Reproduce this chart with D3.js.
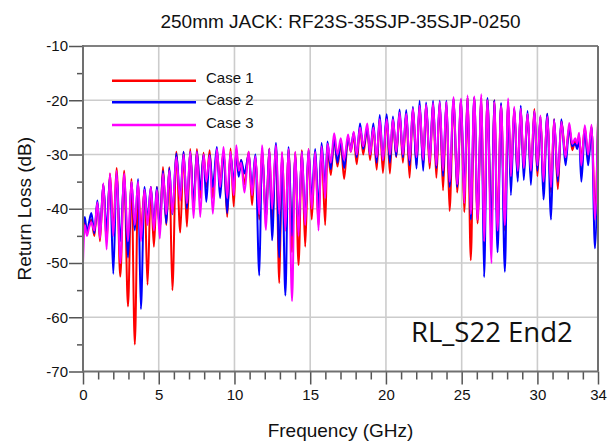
<!DOCTYPE html>
<html>
<head>
<meta charset="utf-8">
<script src="https://cdn.jsdelivr.net/npm/d3@7"></script>
<style>
  html, body { margin: 0; padding: 0; background: #fff; }
  svg { display: block; font-family: "Liberation Sans", Arial, sans-serif; }
  .axis text { font-size: 15px; fill: #111; }
  .axis path { display: none; }
  .axis line { stroke: #555; stroke-width: 1.5; }
</style>
</head>
<body>
<div id="chart"></div>
<script>
// Return loss vs frequency, three cases (peak / dip pairs).

const freqGHz = [
  0, 0.12, 0.26, 0.4, 0.55, 0.75, 0.95, 1.12, 1.34, 1.56, 1.78, 2.0, 2.22, 2.46, 2.72, 2.97,
  3.2, 3.42, 3.64, 3.82, 4.06, 4.26, 4.48, 4.68, 4.88, 5.07, 5.28, 5.5, 5.7, 5.9, 6.16, 6.42,
  6.64, 6.86, 7.08, 7.3, 7.52, 7.74, 7.96, 8.14, 8.36, 8.57, 8.84, 9.05, 9.28, 9.52, 9.74, 9.95,
  10.12, 10.28, 10.44, 10.66, 10.94, 11.16, 11.38, 11.64, 11.82, 12.08, 12.3, 12.48, 12.74, 12.96, 13.14, 13.36,
  13.57, 13.8, 14.01, 14.23, 14.45, 14.67, 14.89, 15.1, 15.33, 15.55, 15.75, 15.99, 16.14, 16.36, 16.58, 16.8,
  17.02, 17.24, 17.5, 17.68, 17.87, 18.07, 18.29, 18.5, 18.77, 18.95, 19.17, 19.39, 19.59, 19.8, 20.05, 20.26,
  20.46, 20.68, 20.9, 21.12, 21.34, 21.56, 21.78, 22.02, 22.22, 22.46, 22.65, 22.89, 23.11, 23.33, 23.55, 23.77,
  23.99, 24.2, 24.47, 24.7, 24.96, 25.17, 25.39, 25.6, 25.83, 26.05, 26.3, 26.48, 26.7, 26.97, 27.15, 27.37,
  27.6, 27.85, 28.07, 28.25, 28.47, 28.7, 28.9, 29.1, 29.35, 29.57, 29.8, 30.0, 30.2, 30.4, 30.65, 30.9,
  31.1, 31.35, 31.58, 31.86, 32.1, 32.3, 32.5, 32.62, 32.75, 32.9, 33.13, 33.35, 33.58, 33.8, 34.0
];

const case1 = [
  -44, -42.5, -44.5, -43, -42, -45, -39, -46, -35.5, -46, -33.5, -44, -32.5, -52.5, -33, -58,
  -34.5, -65, -35.5, -44, -36.5, -54, -36, -47, -36, -44, -32.3, -43, -32.3, -55, -29.5, -44.4,
  -29.5, -43.3, -29, -40, -29, -38, -29.7, -36, -29.2, -38, -29.5, -35, -29.5, -41.5, -28.9, -39.6,
  -29, -33.5, -31, -35.5, -29.5, -39.3, -30.5, -42, -29, -42, -28.9, -43, -28.5, -53.7, -29.7, -44,
  -29, -48, -29.6, -50.4, -29.2, -47, -29, -42, -29.5, -43, -28.5, -43, -28.5, -33.8, -27, -32.2,
  -28, -34.5, -26.8, -29.5, -26.5, -31.8, -25, -30, -25, -31, -25, -32.8, -23.5, -33.4, -23, -33.5,
  -23.5, -30.5, -22.5, -31.5, -22.5, -34.3, -21.5, -32, -21, -32, -20.8, -32.6, -20.5, -34.3, -20.5, -36.6,
  -20.3, -40.4, -19.8, -37, -20, -40.6, -19.5, -49.5, -19.5, -42.7, -19.5, -45, -19.8, -45, -20, -43,
  -20.8, -44, -20.5, -35, -21.5, -34.3, -21.5, -33, -22.5, -34, -21.6, -34, -23, -36, -22.5, -37,
  -23.5, -36.4, -23.8, -30, -25, -29.2, -27.5, -28.5, -26.5, -31, -25, -31, -24.8, -40, -24
];

const case2 = [
  -43, -41.5, -44.5, -42.5, -40.8, -44.5, -38.5, -44.5, -35.5, -44, -34, -52, -33.5, -46, -34, -49,
  -35, -44, -34.5, -58.5, -36, -42, -36, -43, -36, -44, -33, -42.7, -32.5, -41, -29.8, -38,
  -29.5, -40, -29.5, -39, -29.5, -36.5, -30, -38.7, -30, -36, -28.6, -38, -29.5, -40.8, -30, -35,
  -29.8, -34.1, -31, -33.5, -30, -36, -30, -52.3, -29, -42, -29, -45.8, -27.9, -49, -30, -56,
  -28.6, -45, -30, -44, -29.5, -42, -29.2, -38, -29, -40, -27.9, -36, -27.6, -32.7, -27, -31.5,
  -27.5, -32.5, -27, -29, -26, -30.5, -24.3, -29, -25, -30, -24.3, -31.5, -22.7, -31, -22.6, -31.5,
  -23, -30.3, -21.7, -30.5, -21.8, -32, -21.2, -32.6, -20.1, -33, -20.4, -31, -20.1, -32.5, -20.1, -34,
  -20.1, -36, -19.7, -36, -19.9, -37, -19.5, -42, -19.5, -41, -19.8, -52.6, -19.6, -44, -20, -48,
  -20.5, -51.6, -20.3, -37.5, -21.5, -35, -21, -34.7, -22, -35.6, -22, -33, -23, -38.3, -22.5, -42,
  -23.5, -35, -23.5, -32, -25, -28.5, -28, -29, -27, -35, -25.5, -32, -25, -47.3, -24.5
];

const case3 = [
  -50, -43, -45, -43.5, -42.5, -44, -38.8, -45.5, -35.3, -47.5, -33.5, -45, -33, -50, -33.5, -46,
  -35, -43, -35, -46, -36.5, -43, -36, -44, -36.5, -45.5, -33.5, -41, -33, -40.8, -30.5, -38.5,
  -30, -39, -29.5, -41.7, -29.5, -41.5, -30, -35, -30.2, -40.9, -29, -36, -28.6, -38, -29.5, -37.5,
  -28.3, -33, -31.5, -37, -29.5, -37.5, -30.3, -41, -28.3, -43.9, -29, -40, -28.3, -41, -29.5, -44,
  -29, -57, -29.5, -45, -29.5, -43, -29, -40, -29.5, -44, -28.5, -38, -28, -31.5, -26.1, -30,
  -27, -31, -26.3, -29.5, -25.8, -30, -25, -28.5, -24.3, -30, -25, -30.5, -23.5, -31, -23.5, -30,
  -23.5, -29.5, -22.3, -30, -22.5, -31, -21.5, -30.5, -21, -31, -20.8, -31.5, -20.5, -32, -20.3, -33,
  -20.3, -35, -19.4, -35.5, -19.7, -39, -19.1, -41, -19.3, -42, -18.9, -46, -20, -50, -20.3, -44,
  -21, -43, -19.7, -34, -21.2, -33, -21.5, -32.5, -22.5, -33, -22, -32, -22.8, -35, -23, -36,
  -23.7, -34, -24, -30.5, -24.2, -28, -27, -28, -26, -32, -24.6, -30, -24.5, -42, -23.5
];

const seriesNames = ["Case 1", "Case 2", "Case 3"];
const seriesColors = ["#ff0000", "#0000ff", "#ff00ff"];
const seriesValues = [case1, case2, case3];

const yMajorTicks = [-70, -60, -50, -40, -30, -20, -10];
const yMinorTicks = [-65, -55, -45, -35, -25, -15];
const xMajorTicks = [0, 5, 10, 15, 20, 25, 30, 34];
const xMinorTicks = d3.range(1, 34).filter(v => v % 5 !== 0);

const W = 608, H = 442;
const margin = { top: 46, right: 10, bottom: 70.5, left: 83 };

const svg = d3.select("#chart").append("svg")
  .attr("width", W).attr("height", H)
  .attr("viewBox", `0 0 ${W} ${H}`);

const x = d3.scaleLinear().domain([0, 34]).range([margin.left, W - margin.right]);
const y = d3.scaleLinear().domain([-70, -10]).range([H - margin.bottom, margin.top]);
const plain = d => String(d);  // keep ASCII hyphen as in the original

// gridlines
const grid = svg.append("g").attr("stroke", "#cccccc").attr("stroke-width", 1.6);
grid.selectAll("line.gy").data(yMajorTicks.slice(1, -1)).join("line")
  .attr("x1", margin.left).attr("x2", W - margin.right)
  .attr("y1", d => y(d)).attr("y2", d => y(d));
grid.selectAll("line.gx").data(xMajorTicks.slice(1, -1)).join("line")
  .attr("y1", margin.top).attr("y2", H - margin.bottom)
  .attr("x1", d => x(d)).attr("x2", d => x(d));

// data lines
svg.append("clipPath").attr("id", "plot-clip").append("rect")
  .attr("x", margin.left).attr("y", margin.top)
  .attr("width", W - margin.left - margin.right).attr("height", H - margin.top - margin.bottom);

const line = d3.line()
  .x((d, i) => x(freqGHz[i]))
  .y(d => y(d))
  .curve(d3.curveMonotoneX);

const gLines = svg.append("g").attr("clip-path", "url(#plot-clip)");
gLines.selectAll("path").data(seriesValues).join("path")
  .attr("fill", "none")
  .attr("stroke", (d, i) => seriesColors[i])
  .attr("stroke-width", 2)
  .attr("stroke-linejoin", "round")
  .attr("d", line);

// frame
const frame = svg.append("g").attr("fill", "none");
frame.append("line").attr("x1", margin.left).attr("x2", W - margin.right)
  .attr("y1", margin.top).attr("y2", margin.top).attr("stroke", "#808080").attr("stroke-width", 2);
frame.append("line").attr("x1", W - margin.right).attr("x2", W - margin.right)
  .attr("y1", margin.top).attr("y2", H - margin.bottom).attr("stroke", "#707070").attr("stroke-width", 2);

// axes
svg.append("g").attr("class", "axis")
  .attr("transform", `translate(${margin.left},0)`)
  .call(d3.axisLeft(y).tickValues(yMajorTicks).tickSize(14).tickPadding(1).tickFormat(plain));
svg.append("g").attr("class", "axis")
  .attr("transform", `translate(${margin.left},0)`)
  .call(d3.axisLeft(y).tickValues(yMinorTicks).tickSize(6).tickFormat(""));
svg.append("g").attr("class", "axis")
  .attr("transform", `translate(0,${H - margin.bottom})`)
  .call(d3.axisBottom(x).tickValues(xMajorTicks).tickSize(13).tickPadding(5).tickFormat(plain));
svg.append("g").attr("class", "axis")
  .attr("transform", `translate(0,${H - margin.bottom})`)
  .call(d3.axisBottom(x).tickValues(xMinorTicks).tickSize(8).tickFormat(""));

svg.append("line").attr("x1", margin.left).attr("x2", margin.left)
  .attr("y1", margin.top - 1).attr("y2", H - margin.bottom + 1).attr("stroke", "#707070").attr("stroke-width", 2);
svg.append("line").attr("x1", margin.left).attr("x2", W - margin.right)
  .attr("y1", H - margin.bottom).attr("y2", H - margin.bottom).attr("stroke", "#707070").attr("stroke-width", 2);

// titles
svg.append("text")
  .attr("x", (margin.left + W - margin.right) / 2).attr("y", 28)
  .attr("text-anchor", "middle").attr("font-size", 19).attr("fill", "#111")
  .text("250mm JACK: RF23S-35SJP-35SJP-0250");
svg.append("text")
  .attr("x", (margin.left + W - margin.right) / 2).attr("y", 437)
  .attr("text-anchor", "middle").attr("font-size", 19).attr("fill", "#111")
  .text("Frequency (GHz)");
svg.append("text")
  .attr("transform", `translate(31,${y(-40)}) rotate(-90)`)
  .attr("text-anchor", "middle").attr("font-size", 19).attr("fill", "#111")
  .text("Return Loss (dB)");

// annotation
svg.append("text")
  .attr("x", 411).attr("y", 341.5)
  .attr("font-family", "'Open Sans', sans-serif").attr("font-size", 27.5).attr("fill", "#111")
  .text("RL_S22 End2");

// legend
const legend = svg.append("g");
const legendY = [80.7, 102.3, 125];
seriesNames.forEach((name, i) => {
  legend.append("line")
    .attr("x1", 112).attr("x2", 196)
    .attr("y1", legendY[i]).attr("y2", legendY[i])
    .attr("stroke", seriesColors[i]).attr("stroke-width", 2.5);
  legend.append("text")
    .attr("x", 206).attr("y", legendY[i] + 2.5)
    .attr("font-size", 15).attr("fill", "#111")
    .text(name);
});
</script>
</body>
</html>
